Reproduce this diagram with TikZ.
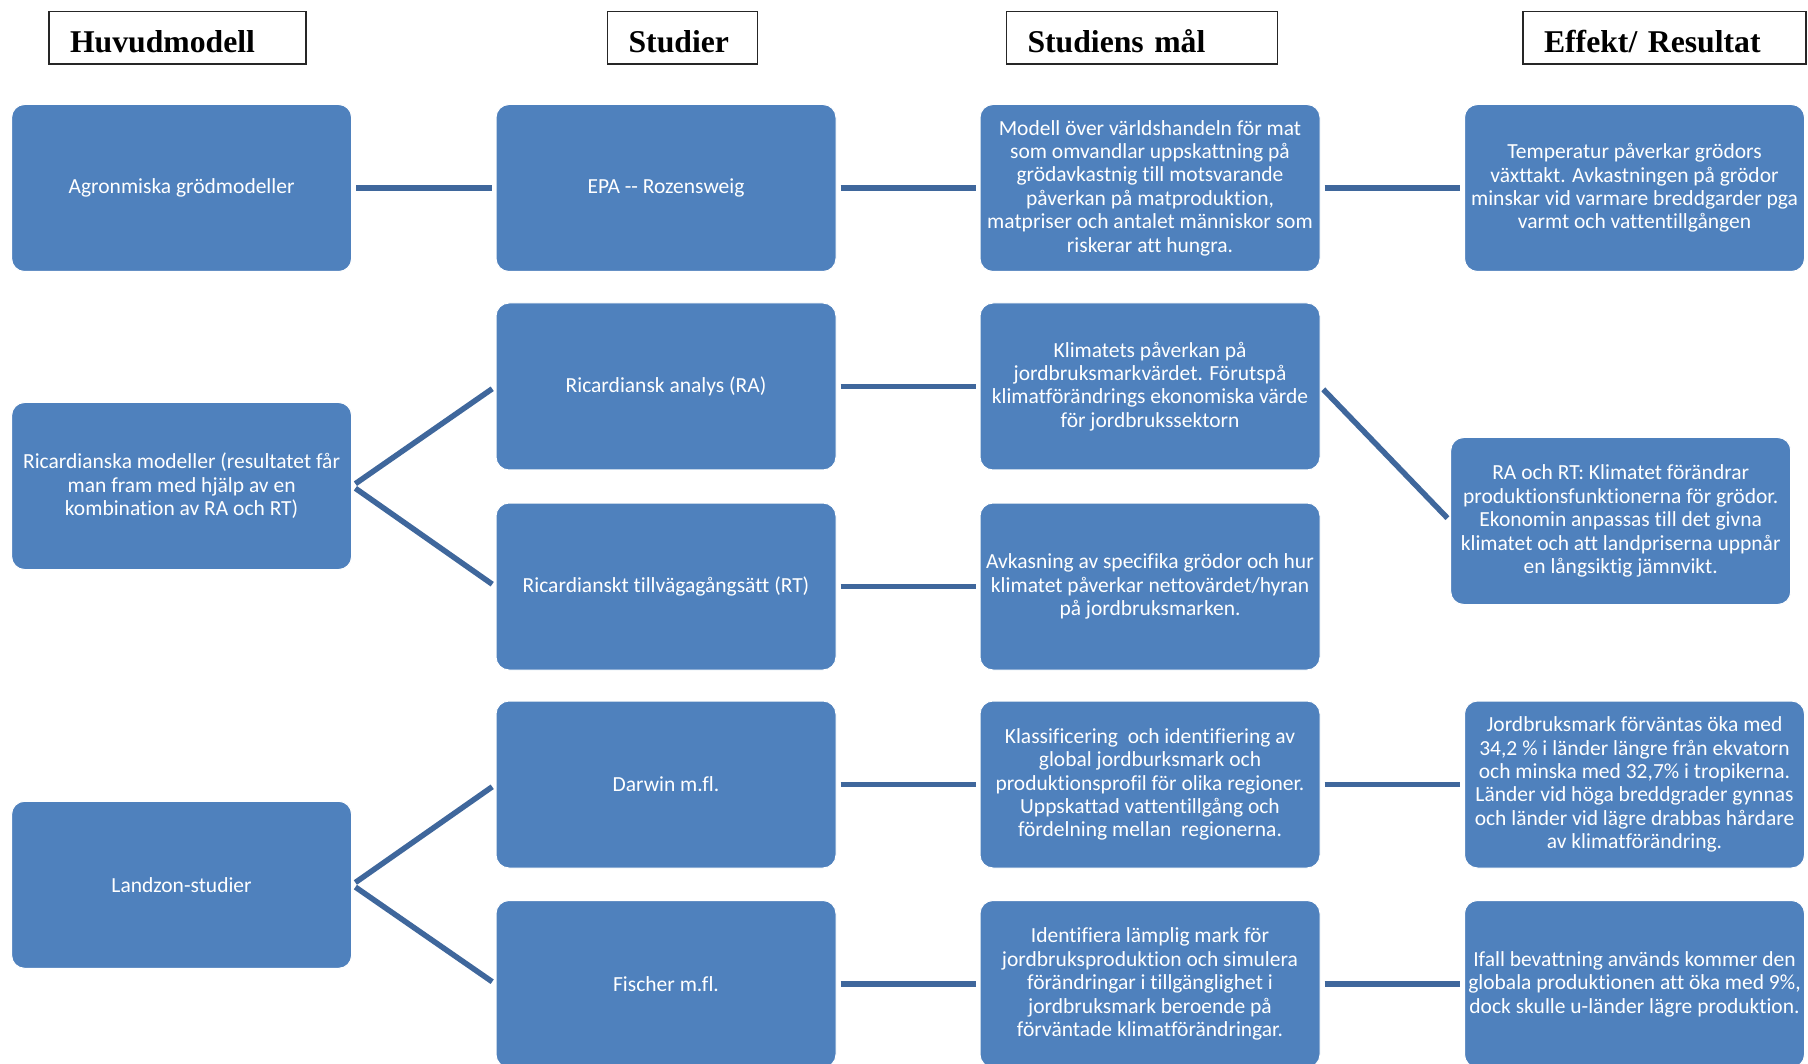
\documentclass[tikz,border=0pt]{standalone}
\usepackage{fontspec}
\setmainfont{Carlito}[Ligatures=CommonOff]
\newfontfamily\hdrfont{Liberation Serif}
\definecolor{boxblue}{HTML}{4F81BD}
\definecolor{connblue}{HTML}{3F679C}
\tikzset{
  box/.style={rectangle, rounded corners=13pt, fill=boxblue, draw=white, line width=1pt,
    minimum width=340pt, minimum height=167pt, inner sep=0pt, align=center, text=white,
    font=\fontsize{21.5}{23.4}\selectfont},
  hdr/.style={rectangle, draw=black!85, line width=1.4pt, fill=white, minimum height=52.3pt,
    inner xsep=21pt, inner ysep=0pt, text height=29.8pt, text depth=0pt, align=left,
    font=\hdrfont\bfseries\fontsize{31.7}{36}\selectfont},
  conn/.style={draw=connblue, line width=5.5pt, shorten >=4pt, shorten <=4pt}
}
\begin{document}
\begin{tikzpicture}[x=1pt,y=-1pt]
\path[use as bounding box] (0,0) rectangle (1808,1064);
\fill[white] (0,0) rectangle (1808,1064);
\clip (0,0) rectangle (1808,1064);

% headers
\node[hdr, text width=215pt] (h1) at (177.5,37.85) {Huvudmodell};
\node[hdr, text width=108pt] (h2) at (682.6,37.85) {Studier};
\node[hdr, text width=229pt] (h3) at (1142,37.85) {Studiens mål};
\node[hdr, text width=241pt] (h4) at (1664.5,37.85) {Effekt/ Resultat};

% column 1
\node[box] (m1) at (181.6,188) {Agronmiska grödmodeller};
\node[box] (m2) at (181.6,486) {Ricardianska modeller (resultatet får\\man fram med hjälp av en\\kombination av RA och RT)};
\node[box] (m3) at (181.6,884.8) {Landzon-studier};

% column 2
\node[box] (s1) at (666,188) {EPA -{}- Rozensweig};
\node[box] (s2) at (666,386.5) {Ricardiansk analys (RA)};
\node[box] (s3) at (666,586.5) {Ricardianskt tillvägagångsätt (RT)};
\node[box] (s4) at (666,784.5) {Darwin m.fl.};
\node[box] (s5) at (666,984) {Fischer m.fl.};

% column 3
\node[box] (g1) at (1150,188) {Modell över världshandeln för mat\\som omvandlar uppskattning på\\grödavkastnig till motsvarande\\påverkan på matproduktion,\\matpriser och antalet människor som\\riskerar att hungra.};
\node[box] (g2) at (1150,386.5) {Klimatets påverkan på\\jordbruksmarkvärdet. Förutspå\\klimatförändrings ekonomiska värde\\för jordbrukssektorn};
\node[box] (g3) at (1150,586.5) {Avkasning av specifika grödor och hur\\klimatet påverkar nettovärdet/hyran\\på jordbruksmarken.};
\node[box] (g4) at (1150,784.5) {Klassificering\ \ och identifiering av\\global jordburksmark och\\produktionsprofil för olika regioner.\\Uppskattad vattentillgång och\\fördelning mellan\ \ regionerna.};
\node[box] (g5) at (1150,984) {Identifiera lämplig mark för\\jordbruksproduktion och simulera\\förändringar i tillgänglighet i\\jordbruksmark beroende på\\förväntade klimatförändringar.};

% column 4
\node[box] (e1) at (1634.5,188) {Temperatur påverkar grödors\\växttakt. Avkastningen på grödor\\minskar vid varmare breddgarder pga\\varmt och vattentillgången};
\node[box] (e2) at (1620.7,521) {RA och RT: Klimatet förändrar\\produktionsfunktionerna för grödor.\\Ekonomin anpassas till det givna\\klimatet och att landpriserna uppnår\\en långsiktig jämnvikt.};
\node[box] (e3) at (1634.5,784.5) {Jordbruksmark förväntas öka med\\34,2 \% i länder längre från ekvatorn\\och minska med 32,7\% i tropikerna.\\Länder vid höga breddgrader gynnas\\och länder vid lägre drabbas hårdare\\av klimatförändring.};
\node[box] (e4) at (1634.5,984) {Ifall bevattning används kommer den\\globala produktionen att öka med 9\%,\\dock skulle u-länder lägre produktion.};

% connectors
\draw[conn] (m1.east) -- (s1.west);
\draw[conn] (s1.east) -- (g1.west);
\draw[conn] (g1.east) -- (e1.west);
\draw[conn] (m2.east) -- (s2.west);
\draw[conn] (m2.east) -- (s3.west);
\draw[conn] (s2.east) -- (g2.west);
\draw[conn] (s3.east) -- (g3.west);
\draw[conn] (g2.east) -- (e2.west);
\draw[conn] (m3.east) -- (s4.west);
\draw[conn] (m3.east) -- (s5.west);
\draw[conn] (s4.east) -- (g4.west);
\draw[conn] (g4.east) -- (e3.west);
\draw[conn] (s5.east) -- (g5.west);
\draw[conn] (g5.east) -- (e4.west);
\end{tikzpicture}
\end{document}
